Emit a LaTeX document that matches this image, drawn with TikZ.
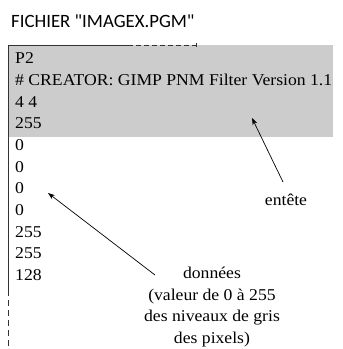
\documentclass[tikz,border=0pt]{standalone}
\usepackage{fontspec}
\setmainfont[FakeStretch=1.07]{Liberation Serif}
\newfontfamily\titlefont{Carlito}
\usetikzlibrary{arrows.meta}
\definecolor{hdrgray}{HTML}{CCCCCC}
\definecolor{framecol}{HTML}{333333}
\begin{document}
\begin{tikzpicture}[x=1pt,y=-1pt,
  line/.style={inner sep=0pt,anchor=base west,font=\fontsize{16.5}{19}\selectfont},
  lbl/.style={inner sep=0pt,align=center,font=\fontsize{16.5}{21.5}\selectfont},
  frame/.style={draw=framecol,line width=0.8pt},
  pointer/.style={draw=black,line width=0.7pt,-{Stealth[length=7pt,width=5pt]}}]
\useasboundingbox (0,0) rectangle (343,349);
% header background
\fill[hdrgray] (8.5,45) rectangle (333,137);
% frame
\draw[frame] (8,45) -- (128,45);
\draw[frame,dash pattern=on 5pt off 3pt] (128,45) -- (196,45);
\draw[frame] (196,43) -- (196,47);
\draw[frame] (8,45) -- (8,290);
\draw[frame,dash pattern=on 6pt off 4pt] (8,290) -- (8,349);
% title
\node[inner sep=0pt,anchor=base west,font=\titlefont\fontsize{18.8}{22}\selectfont] (title) at (11,27) {FICHIER "IMAGEX.PGM"};
% file lines
\node[line] (l1) at (15,63) {P2};
\node[line] (l2) at (15,85) {\# CREATOR: GIMP PNM Filter Version 1.1};
\node[line] (l3) at (15,107) {4 4};
\node[line] (l4) at (15,128) {255};
\node[line] (l5) at (15,150) {0};
\node[line] (l6) at (15,172) {0};
\node[line] (l7) at (15,193) {0};
\node[line] (l8) at (15,215) {0};
\node[line] (l9) at (15,237) {255};
\node[line] (l10) at (15,258) {255};
\node[line] (l11) at (15,280) {128};
% labels
\node[lbl,anchor=base] (entete) at (286,205) {entête};
\node[lbl,anchor=base] (donnees) at (212,343) {données\\(valeur de 0 à 255\\des niveaux de gris\\des pixels)};
% arrows
\coordinate (eTail) at (283,182);
\coordinate (eTip) at (252,118);
\coordinate (dTail) at (155,275);
\coordinate (dTip) at (48,193);
\draw[pointer] (eTail) -- (eTip);
\draw[pointer] (dTail) -- (dTip);
\end{tikzpicture}
\end{document}
